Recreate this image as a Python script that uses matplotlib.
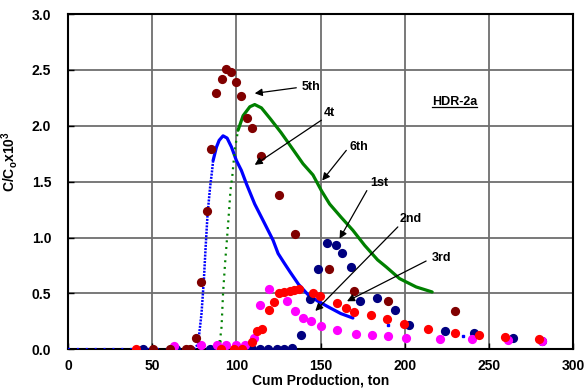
import matplotlib
matplotlib.use('Agg')
import matplotlib.pyplot as plt
from matplotlib.lines import Line2D

plt.rcParams['font.family'] = ['Liberation Sans', 'DejaVu Sans']
plt.rcParams['font.weight'] = 'bold'
plt.rcParams['mathtext.fontset'] = 'custom'
plt.rcParams['mathtext.rm'] = 'Liberation Sans:bold'
plt.rcParams['mathtext.it'] = 'Liberation Sans:bold'
plt.rcParams['mathtext.bf'] = 'Liberation Sans:bold'

# measured tracer data, C/Co x 10^3 vs cumulative production (ton)
x_1st = [44.3, 64.3, 84.5, 109, 114, 119, 124, 128.3, 133, 138.4, 143.5, 148.5, 153.8,
         159.4, 162.7, 167.9, 173.2, 183.5, 194.4, 202.8, 223.8, 240.9, 264.3, 281.4]
y_1st = [0, 0, 0, 0, 0, 0, 0, 0, 0.01, 0.125, 0.45, 0.72, 0.95,
         0.93, 0.86, 0.74, 0.43, 0.46, 0.35, 0.215, 0.16, 0.145, 0.10, 0.07]

x_2nd = [62.7, 79.3, 88.4, 94.1, 99.6, 104.9, 110.5, 114.3, 119.1, 130.1, 134.7, 139.8,
         144.6, 150.1, 160, 170.8, 180.7, 190, 200.5, 221, 240, 261.6, 281.3]
y_2nd = [0.03, 0.035, 0.035, 0.035, 0.035, 0.035, 0.1, 0.395, 0.54, 0.43, 0.345, 0.28,
         0.25, 0.21, 0.17, 0.14, 0.125, 0.116, 0.10, 0.095, 0.095, 0.087, 0.075]

x_3rd = [40.5, 90.8, 98.7, 103.5, 109.4, 112.1, 115.1, 119.3, 122.4, 125.1, 128.5, 131.7,
         134.2, 137, 145.5, 149.9, 159.7, 165.3, 169.6, 179.7, 189.6, 199.5, 214.1,
         230, 244, 259.8, 280]
y_3rd = [0, 0, 0, 0, 0.065, 0.16, 0.18, 0.355, 0.42, 0.5, 0.51, 0.52,
         0.53, 0.54, 0.50, 0.48, 0.41, 0.37, 0.33, 0.31, 0.27, 0.23, 0.18,
         0.146, 0.125, 0.11, 0.095]

x_5th = [50.2, 60.5, 70, 72.4, 76.3, 79.3, 82.3, 85.2, 88.2, 91.2, 94.1, 97.1, 100,
         103, 106.4, 109, 114.9, 125.2, 134.8, 155, 169.8, 190, 229.7]
y_5th = [0, 0, 0, 0, 0.1, 0.6, 1.24, 1.79, 2.29, 2.42, 2.51, 2.48, 2.39,
         2.27, 2.07, 1.98, 1.73, 1.38, 1.03, 0.72, 0.52, 0.43, 0.34]

# model curves
x_4th = [0, 75, 77.3, 79.3, 80.7, 81.7, 82.9, 84.4, 85.6, 86.2, 88.2, 89.8, 92.1, 94.5,
         97.1, 100, 103, 106, 110.9, 115.8, 121.8, 124.8, 128.5, 132, 137, 142.5, 148.5,
         155.4, 162, 169.2]
y_4th = [0, 0, 0.05, 0.32, 0.62, 0.9, 1.21, 1.45, 1.6, 1.69, 1.81, 1.87, 1.91, 1.89,
         1.81, 1.69, 1.60, 1.48, 1.30, 1.155, 0.976, 0.857, 0.77, 0.69, 0.58, 0.49, 0.43,
         0.373, 0.32, 0.28]
x_4th_extra = [190, 234.5]
y_4th_extra = [0.22, 0.116]

x_6th = [83, 89.2, 90.2, 91.2, 92.1, 93.3, 94.5, 95.7, 96.5, 97.6, 99, 101, 104, 108,
         110.9, 114.9, 120.3, 126.5, 132.6, 139.6, 145.5, 150.5, 155.4, 162.3, 169.2,
         176.2, 183.9, 189, 196.9, 206.8, 216.3]
y_6th = [0, 0, 0.065, 0.2, 0.5, 0.77, 1.0, 1.245, 1.42, 1.55, 1.78, 1.96, 2.09, 2.17,
         2.19, 2.16, 2.06, 1.94, 1.81, 1.66, 1.56, 1.42, 1.30, 1.18, 1.065,
         0.93, 0.80, 0.737, 0.633, 0.558, 0.513]

# labels: text, text position, arrow tail, arrow head
notes = [
    ('5th', (144.5, 2.35), (135.6, 2.34), (110.9, 2.29)),
    ('4t', (155.4, 2.11), (150.5, 2.05), (110.9, 1.65)),
    ('6th', (172.8, 1.81), (165.3, 1.78), (151, 1.51)),
    ('1st', (185, 1.49), (177.5, 1.42), (161.3, 0.99)),
    ('2nd', (203.4, 1.17), (195.9, 1.095), (146.9, 0.343)),
    ('3rd', (222, 0.82), (212.7, 0.79), (165.7, 0.43)),
]

fig = plt.figure(figsize=(5.86, 3.89), dpi=100)
ax = fig.add_axes([0.116, 0.102, 0.862, 0.862])

# 4th curve: sparse dots on the flat part, dense dots on the rise, solid after
ax.plot(x_4th[:2], y_4th[:2], color='#0000FF', lw=1.6, dashes=(0.9, 3.1), zorder=3)
ax.plot(x_4th[1:10], y_4th[1:10], color='#0000FF', lw=1.8, dashes=(0.8, 0.5), zorder=3)
ax.plot(x_4th[9:], y_4th[9:], color='#0000FF', lw=2.3, zorder=3,
        solid_joinstyle='round', solid_capstyle='round')
ax.plot(x_4th_extra, y_4th_extra, 's', color='#0000FF', ms=1.6, zorder=3)

# 6th curve
ax.plot(x_6th[:3], y_6th[:3], color='#008000', lw=2.3, zorder=3)
ax.plot(x_6th[2:12], y_6th[2:12], color='#008000', lw=1.6, dashes=(0.9, 2.1), zorder=3)
ax.plot(x_6th[11:], y_6th[11:], color='#008000', lw=2.3, zorder=3,
        solid_joinstyle='round', solid_capstyle='round')

ms = 44
ax.scatter(x_1st, y_1st, s=ms, color='#000080', zorder=4, linewidths=0)
ax.scatter(x_2nd, y_2nd, s=ms, color='#FF00FF', zorder=5, linewidths=0)
ax.scatter(x_3rd, y_3rd, s=ms, color='#FF0000', zorder=6, linewidths=0)
ax.scatter(x_5th, y_5th, s=ms, color='#800000', zorder=7, linewidths=0)

for label, txt, tail, head in notes:
    ax.annotate('', xy=head, xytext=tail,
                arrowprops=dict(arrowstyle='-|>', color='k', lw=0.9, mutation_scale=11,
                                shrinkA=0, shrinkB=0), zorder=8)
    ax.text(txt[0], txt[1], label, fontsize=9, fontweight='bold', ha='center',
            va='center', zorder=8)

hdr = ax.text(229.5, 2.21, 'HDR-2a', fontsize=9, fontweight='bold', ha='center',
              va='center', zorder=8)

ax.set_xlim(0, 300)
ax.set_ylim(0, 3.0)
ax.set_xticks(range(0, 301, 50))
ax.set_yticks([0, 0.5, 1.0, 1.5, 2.0, 2.5, 3.0])
ax.set_yticklabels(['0.0', '0.5', '1.0', '1.5', '2.0', '2.5', '3.0'])
ax.tick_params(axis='both', direction='in', length=4, width=1, labelsize=10)
ax.tick_params(axis='y', pad=12)
ax.tick_params(axis='x', pad=7)
for lab in ax.get_xticklabels() + ax.get_yticklabels():
    lab.set_fontweight('bold')

ax.grid(True, color='#6e6e6e', lw=1.3)
ax.set_axisbelow(True)
for sp in ax.spines.values():
    sp.set_linewidth(1.5)
    sp.set_color('black')

ax.set_xlabel('Cum Production, ton', fontsize=10, fontweight='bold', labelpad=0)
ax.set_ylabel(r'C/C$_\mathrm{o}$x10$^\mathrm{3}$', fontsize=10, fontweight='bold')
ax.yaxis.set_label_coords(-0.095, 0.56)

# underline the well name
fig.canvas.draw()
bb = hdr.get_window_extent()
inv = fig.transFigure.inverted()
(x0, y0), (x1, _) = inv.transform([(bb.x0, bb.y0 + 1), (bb.x1, bb.y0 + 1)])
fig.add_artist(Line2D([x0, x1], [y0, y0], color='k', lw=0.9, transform=fig.transFigure))

fig.savefig('out.png', dpi=100)
